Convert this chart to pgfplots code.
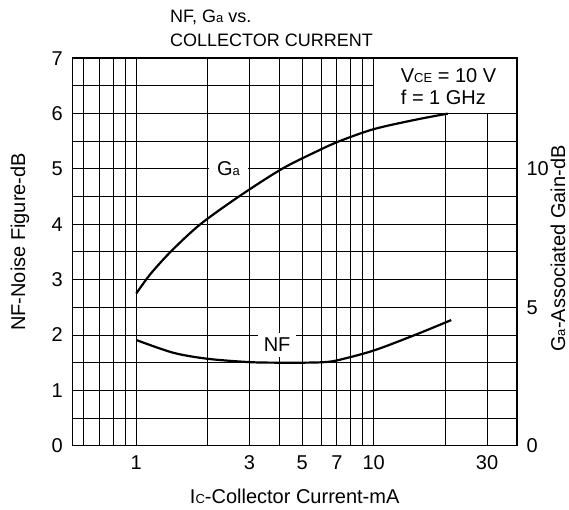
\documentclass[border=0pt]{standalone}
\usepackage{fontspec}
\setmainfont{Liberation Sans}
\usepackage{pgfplots}
\pgfplotsset{compat=1.18}

% small "subscript" letters that sit on the baseline, as in the datasheet
\newcommand{\sub}[1]{{\fontsize{13}{13}\selectfont #1}}

\begin{document}
\fontsize{20}{24}\selectfont
\begin{tikzpicture}[font=\fontsize{20}{24}\selectfont]

% left axis: noise figure, with the grid
\begin{axis}[
  width=444pt, height=387.4pt, scale only axis,
  xmode=log, xmin=0.54, xmax=40,
  /pgf/number format/assume math mode=true,
  major tick length=0pt, minor tick length=0pt,
  ymin=0, ymax=7,
  ytick={0,1,...,7},
  minor ytick={0.5,1.5,...,6.5},
  xtick={1,3,5,7,10,30},
  xticklabels={1,3,5,7,10,30},
  minor xtick={0.6,0.7,0.8,0.9,2,4,6,8,9,20},
  grid=both,
  major grid style={black, line width=1pt},
  minor grid style={black, line width=1pt},
  axis line style={line width=1.6pt},
  xticklabel style={yshift=-3pt},
  yticklabel style={xshift=-3pt},
  xlabel={I\sub{C}-Collector Current-mA},
  xlabel style={at={(axis description cs:0.5,-0.148)}, anchor=base},
  ylabel={NF-Noise Figure-dB},
  ylabel style={at={(axis description cs:-0.1187,0.526)}, anchor=center},
]
  \addplot[black, line width=2.2pt, smooth, tension=0.5] coordinates {
    (1,1.91) (1.43,1.68) (2,1.57) (3,1.51) (4,1.50) (5,1.50)
    (6.2,1.51) (7.15,1.55) (10,1.72) (14.9,2.0) (21.2,2.27)
  };
  \node[fill=white, inner xsep=5.7pt, inner ysep=4.9pt] at (axis cs:3.92,1.82) {NF};
  % conditions box, top right
  \draw[fill=white, line width=1pt] (axis cs:10,6) rectangle (axis cs:40,7);
\end{axis}

% right axis: associated gain
\begin{axis}[
  width=444pt, height=387.4pt, scale only axis,
  xmode=log, xmin=0.54, xmax=40,
  /pgf/number format/assume math mode=true,
  major tick length=0pt, minor tick length=0pt,
  ymin=0, ymax=14,
  ytick={0,5,10},
  axis x line=none,
  axis y line*=right,
  axis line style={line width=1.6pt},
  yticklabel style={anchor=west, xshift=3pt},
  ylabel={G\sub{a}-Associated Gain-dB},
  ylabel style={at={(axis description cs:1.093,0.509)}, anchor=center, rotate=0},
]
  \addplot[black, line width=2.2pt, smooth, tension=0.5] coordinates {
    (1,5.5) (1.1,6.0) (1.2,6.4) (1.43,7.1) (1.86,8.0) (2.7,9.0)
    (4.1,10.0) (5.8,10.65) (7.15,11.0) (10,11.44) (15,11.78) (20.5,12.0)
  };
  \node[fill=white, inner xsep=8pt, inner ysep=3pt] at (axis cs:2.447,10) {G\sub{a}};
\end{axis}

% titles and test conditions
\node[anchor=base west, font=\fontsize{18}{22}\selectfont] at (90.6pt,423.4pt) {NF, G\sub{a} vs.};
\node[anchor=base west, font=\fontsize{18}{22}\selectfont] at (90.6pt,399pt) {COLLECTOR CURRENT};
\node[anchor=base west, inner sep=0pt] at (328pt,363.2pt) {V\sub{CE} = 10 V};
\node[anchor=base west, inner sep=0pt] at (328pt,340.7pt) {f = 1 GHz};

\pgfresetboundingbox
\useasboundingbox (-72.7pt,-64.3pt) rectangle (496.3pt,445.7pt);
\end{tikzpicture}
\end{document}
